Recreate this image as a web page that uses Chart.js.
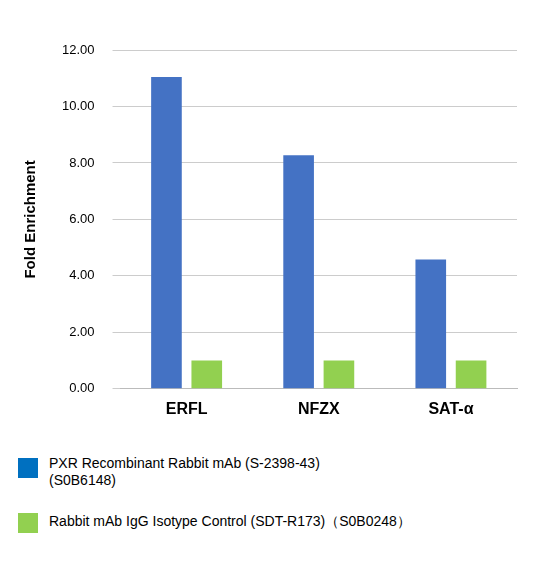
<!DOCTYPE html>
<html><head><meta charset="utf-8">
<script src="https://cdn.jsdelivr.net/npm/chart.js@4/dist/chart.umd.min.js"></script>
<style>
body{margin:0;background:#fff;font-family:"Liberation Sans",Arial,sans-serif;}
#wrap{position:relative;width:541px;height:422px;}
.leg{position:absolute;left:18px;font-size:14px;color:#000;}
.sw{position:absolute;left:0;top:0;width:20px;height:20px;}
.lt{position:absolute;left:31px;top:0;white-space:nowrap;line-height:17px;}
</style></head><body>
<div id="wrap"><canvas id="c"></canvas></div>
<div class="leg" style="top:455px"><div class="sw" style="background:#0070C0;top:3px"></div><div class="lt">PXR Recombinant Rabbit mAb (S-2398-43)<br>(S0B6148)</div></div>
<div class="leg" style="top:513px"><div class="sw" style="background:#92D050;top:0"></div><div class="lt">Rabbit mAb IgG Isotype Control (SDT-R173)（S0B0248）</div></div>
<script>
const categories=["ERFL","NFZX","SAT-α"];
const pxrValues=[11.04,8.27,4.58];
const iggValues=[1.0,1.0,1.0];
const yTicks=[0,2,4,6,8,10,12];
new Chart(document.getElementById('c'),{
type:'bar',
data:{labels:categories,datasets:[
{label:'PXR',data:pxrValues,backgroundColor:'#4472C4',categoryPercentage:0.61,barPercentage:0.76},
{label:'IgG',data:iggValues,backgroundColor:'#92D050',categoryPercentage:0.61,barPercentage:0.76}]},
options:{responsive:true,maintainAspectRatio:false,animation:false,
layout:{padding:{top:50,right:24,left:18,bottom:0}},
plugins:{legend:{display:false},tooltip:{enabled:false}},
scales:{
x:{grid:{display:false},border:{color:'#bbb'},ticks:{color:'#000',font:{size:16,weight:'bold',family:'Liberation Sans'}}},
y:{min:0,max:12,afterBuildTicks:a=>{a.ticks=yTicks.map(v=>({value:v}));},
grid:{color:'#ccc'},border:{display:false},
ticks:{color:'#000',padding:18,font:{size:13,family:'Liberation Sans'},callback:v=>v.toFixed(2)},
title:{display:true,text:'Fold Enrichment',color:'#000',font:{size:15,weight:'bold',family:'Liberation Sans'}}}}}
});
</script></body></html>
